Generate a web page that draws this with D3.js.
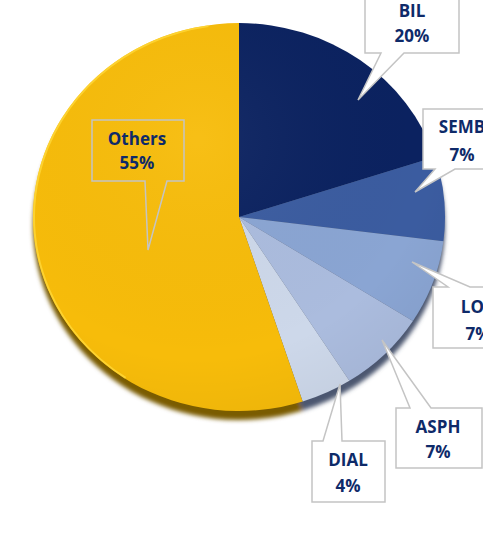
<!DOCTYPE html>
<html>
<head>
<meta charset="utf-8">
<script src="https://cdn.jsdelivr.net/npm/d3@7"></script>
<style>
  body { margin: 0; background: #fff; }
  svg { display: block; }
</style>
</head>
<body>
<div id="chart"></div>
<script>
// data
const categories = ["BIL", "SEMB", "LOR", "ASPH", "DIAL", "Others"];
const shares = [20, 7, 7, 7, 4, 55];
const sliceColors = ["#0b2260", "#3b5ca0", "#8aa5d3", "#abbcde", "#cdd8ea", "#f7bc0a"];

// callout boxes: [x0, y0, x1, y1], pointer base on "top"/"bottom" edge, tip point
const callouts = {
  "BIL":    { box: [365, -10, 459, 53],  side: "bottom", base: [381, 404], tip: [358, 100], tx: 412, ty: [11, 36] },
  "SEMB":   { box: [423, 109, 505, 169], side: "bottom", base: [435, 455], tip: [415, 192], tx: 462, ty: [127, 155] },
  "LOR":    { box: [433, 287, 505, 348], side: "top",    base: [448, 470], tip: [412, 262], tx: 478, ty: [307, 334] },
  "ASPH":   { box: [396, 408, 482, 468], side: "top",    base: [410, 431], tip: [382, 340], tx: 438, ty: [427, 452] },
  "DIAL":   { box: [312, 441, 385, 502], side: "top",    base: [323, 342], tip: [340, 384], tx: 348, ty: [460, 486] },
  "Others": { box: [92, 120, 184, 181],  side: "bottom", base: [145, 167], tip: [148, 250], tx: 137, ty: [139, 163] }
};

const width = 483, height = 546;
const cx = 239, cy = 217, rx = 206, ry = 194;

const data = categories.map((c, i) => ({ key: c, value: shares[i], color: sliceColors[i] }));

const svg = d3.select("#chart")
  .append("svg")
    .attr("width", width)
    .attr("height", height);

const defs = svg.append("defs");
defs.append("filter")
    .attr("id", "rimBlur")
    .attr("x", "-10%").attr("y", "-10%").attr("width", "120%").attr("height", "130%")
  .append("feGaussianBlur")
    .attr("stdDeviation", 2.2);

// soft shading over the top surface
const shade = defs.append("radialGradient")
    .attr("id", "shade")
    .attr("cx", "40%").attr("cy", "30%").attr("r", "75%");
shade.append("stop").attr("offset", "0%").attr("stop-color", "#fff").attr("stop-opacity", 0.05);
shade.append("stop").attr("offset", "75%").attr("stop-color", "#000").attr("stop-opacity", 0.0);
shade.append("stop").attr("offset", "100%").attr("stop-color", "#000").attr("stop-opacity", 0.04);

const pie = d3.pie().sort(null).value(d => d.value);
const arcs = pie(data);
const arc = d3.arc().innerRadius(0).outerRadius(rx);

// rim (3d side) drawn as shifted, darker, blurred copy
const rim = svg.append("g")
    .attr("transform", `translate(${cx},${cy + 9}) scale(1,${ry / rx})`)
    .attr("filter", "url(#rimBlur)");
rim.selectAll("path")
  .data(arcs)
  .join("path")
    .attr("d", arc)
    .attr("fill", d => d.data.key === "Others" ? "#7a5c00" : "#4b5670");

// top surface
const surface = svg.append("g")
    .attr("transform", `translate(${cx},${cy}) scale(1,${ry / rx})`);
surface.selectAll("path")
  .data(arcs)
  .join("path")
    .attr("d", arc)
    .attr("fill", d => d.data.color);

surface.append("circle")
    .attr("r", rx)
    .attr("fill", "url(#shade)");

// thin light edge on the left of the gold slice
const others = arcs[arcs.length - 1];
surface.append("path")
    .attr("d", d3.arc().innerRadius(rx - 2).outerRadius(rx)
      .startAngle(others.startAngle + 0.9).endAngle(others.endAngle - 0.15)())
    .attr("fill", "#ffd83a")
    .attr("opacity", 0.8);

// callouts
function calloutPath(c) {
  const [x0, y0, x1, y1] = c.box;
  const [b0, b1] = c.base;
  const [tx, ty] = c.tip;
  if (c.side === "bottom") {
    return `M${x0},${y0}L${x1},${y0}L${x1},${y1}L${b1},${y1}L${tx},${ty}L${b0},${y1}L${x0},${y1}Z`;
  }
  return `M${x0},${y0}L${b0},${y0}L${tx},${ty}L${b1},${y0}L${x1},${y0}L${x1},${y1}L${x0},${y1}Z`;
}

const labels = svg.append("g")
  .selectAll("g")
  .data(data)
  .join("g");

labels.append("path")
    .attr("d", d => calloutPath(callouts[d.key]))
    .attr("fill", d => d.key === "Others" ? "none" : "#fff")
    .attr("stroke", "#c4c4c4")
    .attr("stroke-width", 1.5);

labels.append("text")
    .attr("x", d => callouts[d.key].tx)
    .attr("y", d => callouts[d.key].ty[0] + 6)
    .attr("text-anchor", "middle")
    .style("font-family", "'Open Sans', sans-serif")
    .style("font-weight", "bold")
    .style("font-size", "17px")
    .style("fill", "#0e2a69")
    .text(d => d.key);

labels.append("text")
    .attr("x", d => callouts[d.key].tx)
    .attr("y", d => callouts[d.key].ty[1] + 6)
    .attr("text-anchor", "middle")
    .style("font-family", "'Open Sans', sans-serif")
    .style("font-weight", "bold")
    .style("font-size", "17px")
    .style("fill", "#0e2a69")
    .text(d => d.value + "%");
</script>
</body>
</html>
